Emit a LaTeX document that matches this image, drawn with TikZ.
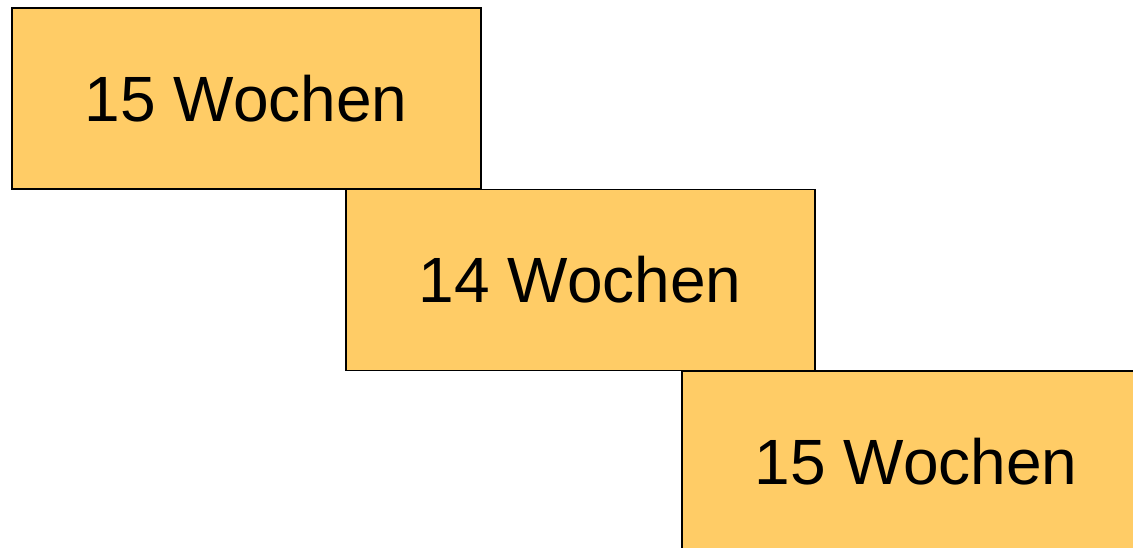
\documentclass[tikz,border=0pt]{standalone}
\usepackage{fontspec}
\setmainfont{Liberation Sans}
\definecolor{boxfill}{HTML}{FFCC66}
\begin{document}
\begin{tikzpicture}[x=1pt,y=-1pt,
  weekbox/.style={draw=black, line width=1.5pt, fill=boxfill, minimum width=469pt, minimum height=181pt, inner sep=0pt, font=\fontsize{64}{70}\selectfont, anchor=north west}]
\useasboundingbox (0,0) rectangle (1133,547);
\clip (0,0) rectangle (1133,547);
\node[weekbox] (a) at (11,7) {15 Wochen};
\node[weekbox] (b) at (345,188.5) {14 Wochen};
\node[weekbox] (c) at (681,370) {15 Wochen};
\end{tikzpicture}
\end{document}
